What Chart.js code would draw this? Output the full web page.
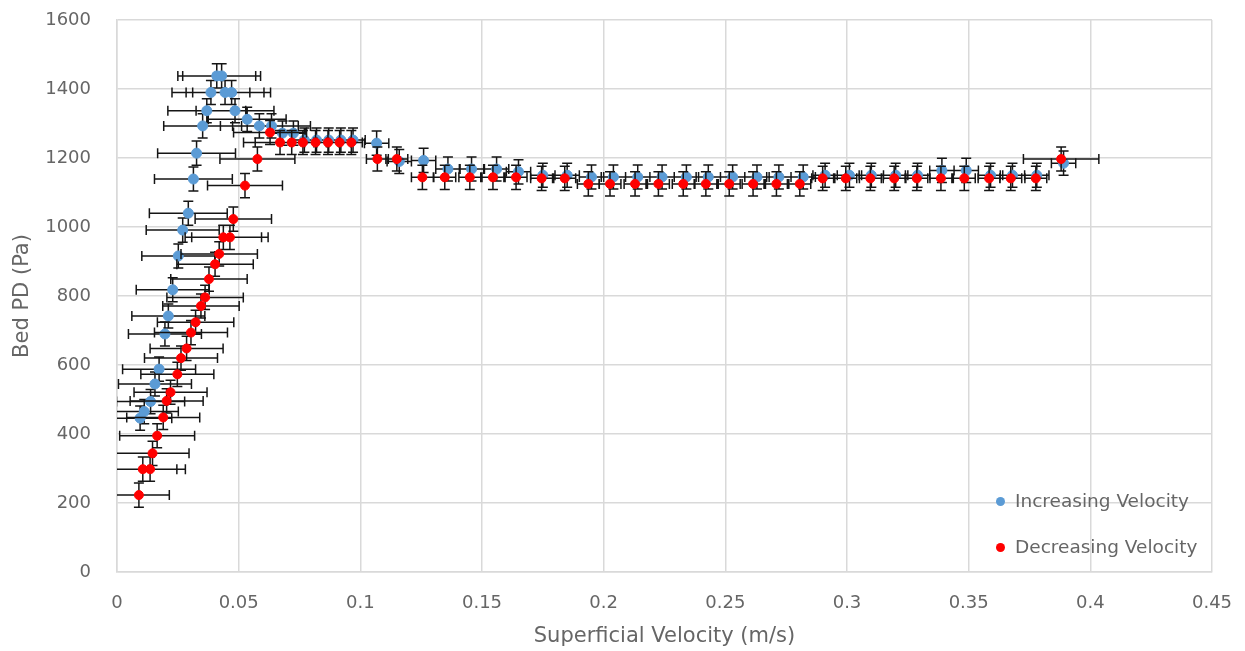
<!DOCTYPE html>
<html lang="en">
<head>
    <meta charset="utf-8">
    <title>Bed PD vs Superficial Velocity</title>
    <script src="https://cdn.jsdelivr.net/npm/chart.js"></script>
    <style>
        body { margin: 0; background: #fff; }
        #wrap { position: relative; width: 1245px; height: 651px; }
        .legend-item {
            position: absolute; left: 996px; height: 24px; line-height: 24px;
            font-family: 'DejaVu Sans', sans-serif; font-size: 18.5px; color: #666;
            white-space: nowrap;
        }
        .legend-item span.dot {
            display: inline-block; width: 9px; height: 9px; border-radius: 50%;
            margin-right: 10px; vertical-align: middle; position: relative; top: -1px;
        }
    </style>
</head>
<body>
    <div id="wrap">
        <canvas id="myChart" width="1245" height="651"></canvas>
        <!-- Legend sits inside the plot, bottom right -->
        <div class="legend-item" style="top:489px"><span class="dot" style="background:#5b9bd5"></span>Increasing Velocity</div>
        <div class="legend-item" style="top:535px"><span class="dot" style="background:#ff0000"></span>Decreasing Velocity</div>
    </div>
    <script>
        // Increasing velocity run (blue)
        const inc_velocity = [0.0095, 0.0112, 0.0138, 0.0156, 0.0173, 0.0197, 0.0211, 0.0229, 0.0252, 0.0270,
            0.0293, 0.0314, 0.0327, 0.0352, 0.0369, 0.0386, 0.0410, 0.0430, 0.0444, 0.0471,
            0.0485, 0.0535, 0.0585, 0.0635, 0.0680, 0.0725, 0.0770, 0.0820, 0.0870, 0.0920,
            0.0970, 0.1067, 0.1160, 0.1260, 0.1360, 0.1457, 0.1560, 0.1650, 0.1750, 0.1850,
            0.1950, 0.2040, 0.2140, 0.2240, 0.2340, 0.2430, 0.2530, 0.2630, 0.2720, 0.2820,
            0.2910, 0.3010, 0.3100, 0.3200, 0.3290, 0.3390, 0.3490, 0.3590, 0.3680, 0.3780, 0.3890]
        const inc_pd = [446, 465, 494, 545, 588, 690, 742, 818, 916, 991,
            1040, 1139, 1214, 1293, 1337, 1390, 1438, 1438, 1390, 1390,
            1337, 1312, 1293, 1293, 1272, 1272, 1252, 1252, 1252, 1252,
            1252, 1243, 1190, 1193, 1168, 1168, 1168, 1160, 1150, 1150,
            1145, 1145, 1145, 1145, 1145, 1145, 1145, 1145, 1145, 1145,
            1150, 1150, 1150, 1150, 1150, 1164, 1164, 1150, 1150, 1150, 1185]
        const inc_vel_err = [0.013, 0.014, 0.014, 0.015, 0.015, 0.015, 0.015, 0.015, 0.015, 0.015,
            0.016, 0.016, 0.016, 0.016, 0.016, 0.016, 0.016, 0.016, 0.016, 0.016,
            0.016, 0.016, 0.016, 0.016, 0.005, 0.005, 0.005, 0.005, 0.005, 0.005,
            0.005, 0.005, 0.005, 0.005, 0.005, 0.005, 0.005, 0.005, 0.005, 0.005,
            0.005, 0.005, 0.005, 0.005, 0.005, 0.005, 0.005, 0.005, 0.005, 0.005,
            0.005, 0.005, 0.005, 0.005, 0.005, 0.005, 0.005, 0.005, 0.005, 0.005, 0.005]

        // Decreasing velocity run (red)
        const dec_velocity = [0.0090, 0.0106, 0.0136, 0.0146, 0.0165, 0.0190, 0.0204, 0.0220, 0.0248, 0.0263,
            0.0286, 0.0304, 0.0323, 0.0345, 0.0362, 0.0378, 0.0403, 0.0420, 0.0437, 0.0464,
            0.0478, 0.0526, 0.0577, 0.0629, 0.0670, 0.0718, 0.0764, 0.0816, 0.0867, 0.0915,
            0.0963, 0.1070, 0.1150, 0.1255, 0.1347, 0.1450, 0.1545, 0.1640, 0.1745, 0.1840,
            0.1937, 0.2026, 0.2129, 0.2225, 0.2327, 0.2420, 0.2516, 0.2614, 0.2710, 0.2806,
            0.2900, 0.2995, 0.3096, 0.3194, 0.3287, 0.3386, 0.3482, 0.3584, 0.3673, 0.3776, 0.3880]
        const dec_pd = [223, 298, 298, 344, 395, 448, 496, 521, 573, 620,
            648, 694, 724, 771, 796, 849, 892, 922, 970, 970,
            1023, 1120, 1197, 1274, 1245, 1245, 1245, 1245, 1245, 1245,
            1245, 1197, 1197, 1144, 1144, 1144, 1144, 1144, 1141, 1141,
            1125, 1125, 1125, 1125, 1125, 1125, 1125, 1125, 1125, 1125,
            1141, 1141, 1141, 1141, 1141, 1141, 1141, 1141, 1141, 1141, 1197]
        const dec_vel_err = [0.0125, 0.014, 0.0145, 0.015, 0.0154, 0.015, 0.015, 0.015, 0.015, 0.015,
            0.015, 0.015, 0.0157, 0.0157, 0.0157, 0.0157, 0.0157, 0.0157, 0.0157, 0.0157,
            0.0157, 0.0154, 0.0154, 0.015, 0.015, 0.015, 0.0045, 0.0045, 0.0045, 0.0045,
            0.0045, 0.0045, 0.0045, 0.0045, 0.0045, 0.0045, 0.0045, 0.0045, 0.0045, 0.0045,
            0.0045, 0.0045, 0.0045, 0.0045, 0.0045, 0.0045, 0.0045, 0.0045, 0.0045, 0.0045,
            0.0045, 0.0045, 0.0045, 0.0045, 0.0045, 0.0045, 0.0045, 0.0045, 0.0045, 0.0045, 0.0155]

        // fixed error on pressure drop (Pa)
        const pd_err = 35

        const text_grey = '#666666'
        const grid_grey = '#d9d9d9'
        const font_family = "'DejaVu Sans', sans-serif"

        const to_points = (xs, ys) => xs.map((v, i) => ({ x: v, y: ys[i] }))

        // Draws x and y error bars for a dataset just before its markers
        const error_bars = {
            id: 'error_bars',
            beforeDatasetDraw(chart, args) {
                const ds = chart.data.datasets[args.index]
                const xs = chart.scales.x
                const ys = chart.scales.y
                const area = chart.chartArea
                const ctx = chart.ctx
                ctx.save()
                ctx.beginPath()
                ctx.rect(area.left, area.top, area.right - area.left, area.bottom - area.top)
                ctx.clip()
                ctx.strokeStyle = '#151515'
                ctx.lineWidth = 1.5
                ctx.beginPath()
                ds.data.forEach((p, i) => {
                    const px = xs.getPixelForValue(p.x)
                    const py = ys.getPixelForValue(p.y)
                    const xl = xs.getPixelForValue(p.x - ds.xErr[i])
                    const xr = xs.getPixelForValue(p.x + ds.xErr[i])
                    const yt = ys.getPixelForValue(p.y + pd_err)
                    const yb = ys.getPixelForValue(p.y - pd_err)
                    ctx.moveTo(xl, py); ctx.lineTo(xr, py)
                    ctx.moveTo(xl, py - 5); ctx.lineTo(xl, py + 5)
                    ctx.moveTo(xr, py - 5); ctx.lineTo(xr, py + 5)
                    ctx.moveTo(px, yt); ctx.lineTo(px, yb)
                    ctx.moveTo(px - 5, yt); ctx.lineTo(px + 5, yt)
                    ctx.moveTo(px - 5, yb); ctx.lineTo(px + 5, yb)
                })
                ctx.stroke()
                ctx.restore()
            }
        }

        const config = {
            type: 'scatter',
            data: {
                datasets: [
                    {
                        label: 'Increasing Velocity',
                        data: to_points(inc_velocity, inc_pd),
                        xErr: inc_vel_err,
                        backgroundColor: '#5b9bd5',
                        borderColor: '#5b9bd5',
                        pointRadius: 5,
                        borderWidth: 1,
                        order: 2
                    },
                    {
                        label: 'Decreasing Velocity',
                        data: to_points(dec_velocity, dec_pd),
                        xErr: dec_vel_err,
                        backgroundColor: '#ff0000',
                        borderColor: '#ff0000',
                        pointRadius: 4.5,
                        borderWidth: 1,
                        order: 1
                    }
                ]
            },
            options: {
                responsive: false,
                animation: false,
                layout: { padding: { top: 20, right: 33, left: 0, bottom: 0 } },
                scales: {
                    x: {
                        type: 'linear',
                        min: 0,
                        max: 0.45,
                        afterFit: (scale) => {
                            scale.height = 79
                            scale.paddingLeft = 0
                            scale.paddingRight = 0
                        },
                        ticks: {
                            stepSize: 0.05,
                            padding: 21,
                            color: text_grey,
                            font: { family: font_family, size: 18 },
                            callback: (v) => String(Number(v.toFixed(2)))
                        },
                        grid: { color: grid_grey, lineWidth: 1.5, drawTicks: false },
                        border: { color: grid_grey, width: 1.5 },
                        title: {
                            display: true,
                            text: 'Superficial Velocity (m/s)',
                            color: text_grey,
                            font: { family: font_family, size: 21 },
                            padding: { top: 0, bottom: 2 }
                        }
                    },
                    y: {
                        min: 0,
                        max: 1600,
                        afterFit: (scale) => {
                            scale.width = 117
                            scale.paddingTop = 0
                            scale.paddingBottom = 0
                        },
                        ticks: {
                            stepSize: 200,
                            padding: 26,
                            color: text_grey,
                            font: { family: font_family, size: 18 },
                            callback: (v) => String(v)
                        },
                        grid: { color: grid_grey, lineWidth: 1.5, drawTicks: false },
                        border: { color: grid_grey, width: 1.5 },
                        title: {
                            display: true,
                            text: 'Bed PD (Pa)',
                            color: text_grey,
                            font: { family: font_family, size: 21 },
                            padding: { top: 10, bottom: 0 }
                        }
                    }
                },
                plugins: {
                    legend: { display: false },
                    tooltip: { enabled: false }
                }
            },
            plugins: [error_bars]
        }
        const ctx = document.getElementById('myChart').getContext('2d')
        const chart_object = new Chart(ctx, config)
    </script>
</body>
</html>
